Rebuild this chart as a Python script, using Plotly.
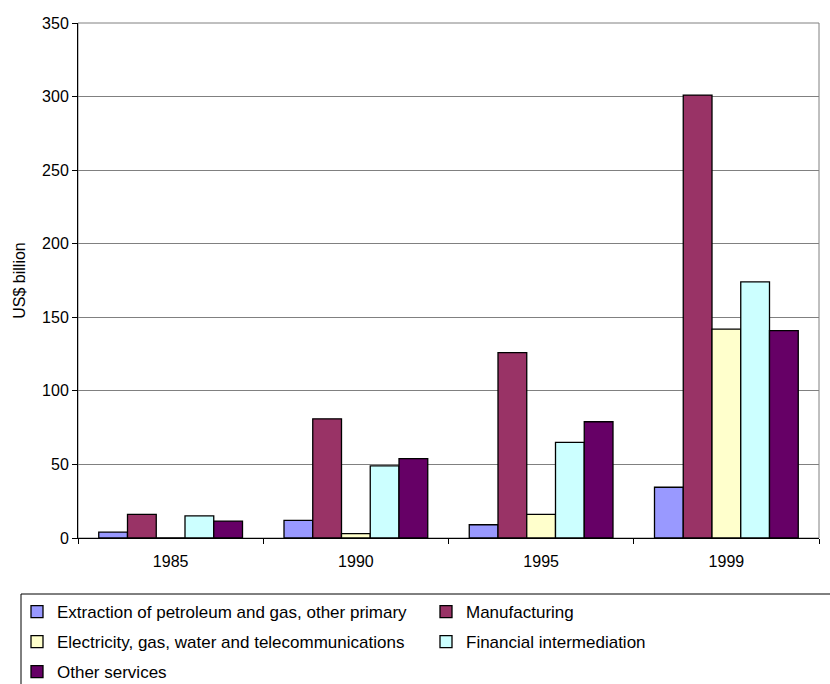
import plotly.graph_objects as go

years = ["1985", "1990", "1995", "1999"]
series_names = [
    "Extraction of petroleum and gas, other primary",
    "Manufacturing",
    "Electricity, gas, water and telecommunications",
    "Financial intermediation",
    "Other services",
]
extraction = [4, 12, 9, 34.5]
manufacturing = [16, 81, 126, 301]
electricity = [0, 3, 16, 142]
financial = [15, 49, 65, 174]
other_services = [11.5, 54, 79, 141]

values = [extraction, manufacturing, electricity, financial, other_services]
colors = ["#9999FF", "#993366", "#FFFFCC", "#CCFFFF", "#660066"]
legend_ids = ["legend", "legend2", "legend3", "legend4", "legend5"]

FONT = "Liberation Sans, Arial, sans-serif"

fig = go.Figure()
for name, vals, col, lg in zip(series_names, values, colors, legend_ids):
    fig.add_trace(go.Bar(
        x=years, y=vals, name=name, legend=lg, showlegend=True,
        marker=dict(color=col, line=dict(color="black", width=1.3)),
    ))

W, H = 830, 684
L, R, T, B = 78, 11, 23, 146
pw, ph = W - L - R, H - T - B

def px_x(px):
    return (px - L) / pw

def px_y(py):
    return (H - B - py) / ph

leg_common = dict(orientation="h", xanchor="left", yanchor="middle",
                  font=dict(family=FONT, size=17, color="black"),
                  bgcolor="rgba(0,0,0,0)", borderwidth=0,
                  itemclick=False, itemdoubleclick=False)

col1, col2 = 17, 426
rows = [612, 642, 672]

fig.update_layout(
    width=W, height=H,
    showlegend=True,
    margin=dict(l=L, r=R, t=T, b=B, autoexpand=False),
    paper_bgcolor="white", plot_bgcolor="white",
    font=dict(family=FONT, size=16, color="black"),
    barmode="group", bargap=0.224, bargroupgap=0,
    legend=dict(x=px_x(col1), y=px_y(rows[0]), **leg_common),
    legend2=dict(x=px_x(col2), y=px_y(rows[0]), **leg_common),
    legend3=dict(x=px_x(col1), y=px_y(rows[1]), **leg_common),
    legend4=dict(x=px_x(col2), y=px_y(rows[1]), **leg_common),
    legend5=dict(x=px_x(col1), y=px_y(rows[2]), **leg_common),
    xaxis=dict(
        type="category", showline=True, linecolor="black", linewidth=1,
        ticks="outside", tickson="boundaries", ticklen=5, tickcolor="black",
        showgrid=False, tickfont=dict(size=16), ticklabelstandoff=9,
    ),
    yaxis=dict(
        range=[0, 350], dtick=50, showline=True, linecolor="black", linewidth=1,
        ticks="outside", ticklen=5, tickcolor="black",
        showgrid=True, gridcolor="#808080", gridwidth=1,
        zeroline=False, tickfont=dict(size=16),
        title=dict(text="US$ billion", font=dict(size=16), standoff=12),
    ),
    shapes=[
        dict(type="rect", xref="paper", yref="paper", x0=0, x1=1, y0=0, y1=1,
             line=dict(color="#808080", width=1), layer="below"),
        dict(type="rect", xref="paper", yref="paper",
             x0=px_x(21), x1=px_x(840), y0=px_y(594), y1=px_y(700),
             line=dict(color="black", width=1)),
    ],
)

fig.write_html("out.html")
